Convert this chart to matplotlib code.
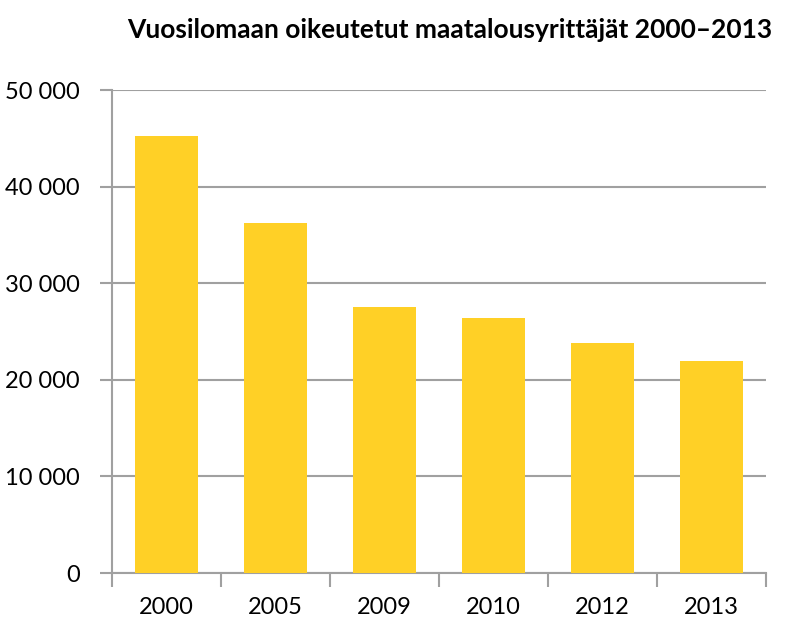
import matplotlib.pyplot as plt
from matplotlib.ticker import FuncFormatter, FixedLocator

years = ["2000", "2005", "2009", "2010", "2012", "2013"]
entrepreneurs = [45300, 36300, 27600, 26400, 23800, 22000]
y_ticks = [0, 10000, 20000, 30000, 40000, 50000]

plt.rcParams["font.family"] = ["Lato", "DejaVu Sans"]

fig = plt.figure(figsize=(7.91, 6.19), dpi=100)
ax = fig.add_axes([0.1416, 0.0743, 0.8268, 0.7797])

grid_color = "#a0a0a0"
x = range(len(years))
ax.bar(x, entrepreneurs, width=0.58, color="#ffd026", zorder=3)

ax.set_xlim(-0.5, len(years) - 0.5)
ax.set_ylim(0, 50000)
ax.set_yticks(y_ticks)
ax.yaxis.set_major_formatter(FuncFormatter(lambda v, p: f"{int(v):,}".replace(",", " ")))
ax.yaxis.grid(True, color=grid_color, linewidth=1.5, zorder=0)

ax.set_xticks(list(x))
ax.set_xticklabels(years)
ax.xaxis.set_minor_locator(FixedLocator([i - 0.5 for i in range(len(years) + 1)]))
ax.tick_params(axis="x", which="major", length=0, pad=17, labelsize=17)
ax.tick_params(axis="x", which="minor", length=10, width=1.5, color=grid_color)
ax.tick_params(axis="y", length=9, width=1.5, color=grid_color, pad=14, labelsize=17)

for side in ["top", "right"]:
    ax.spines[side].set_visible(False)
for side in ["left", "bottom"]:
    ax.spines[side].set_color(grid_color)
    ax.spines[side].set_linewidth(1.5)

fig.text(0.568, 0.951, "Vuosilomaan oikeutetut maatalousyrittäjät 2000–2013",
         ha="center", va="center", fontsize=19, fontweight="bold")

fig.savefig("out.png", dpi=100)
